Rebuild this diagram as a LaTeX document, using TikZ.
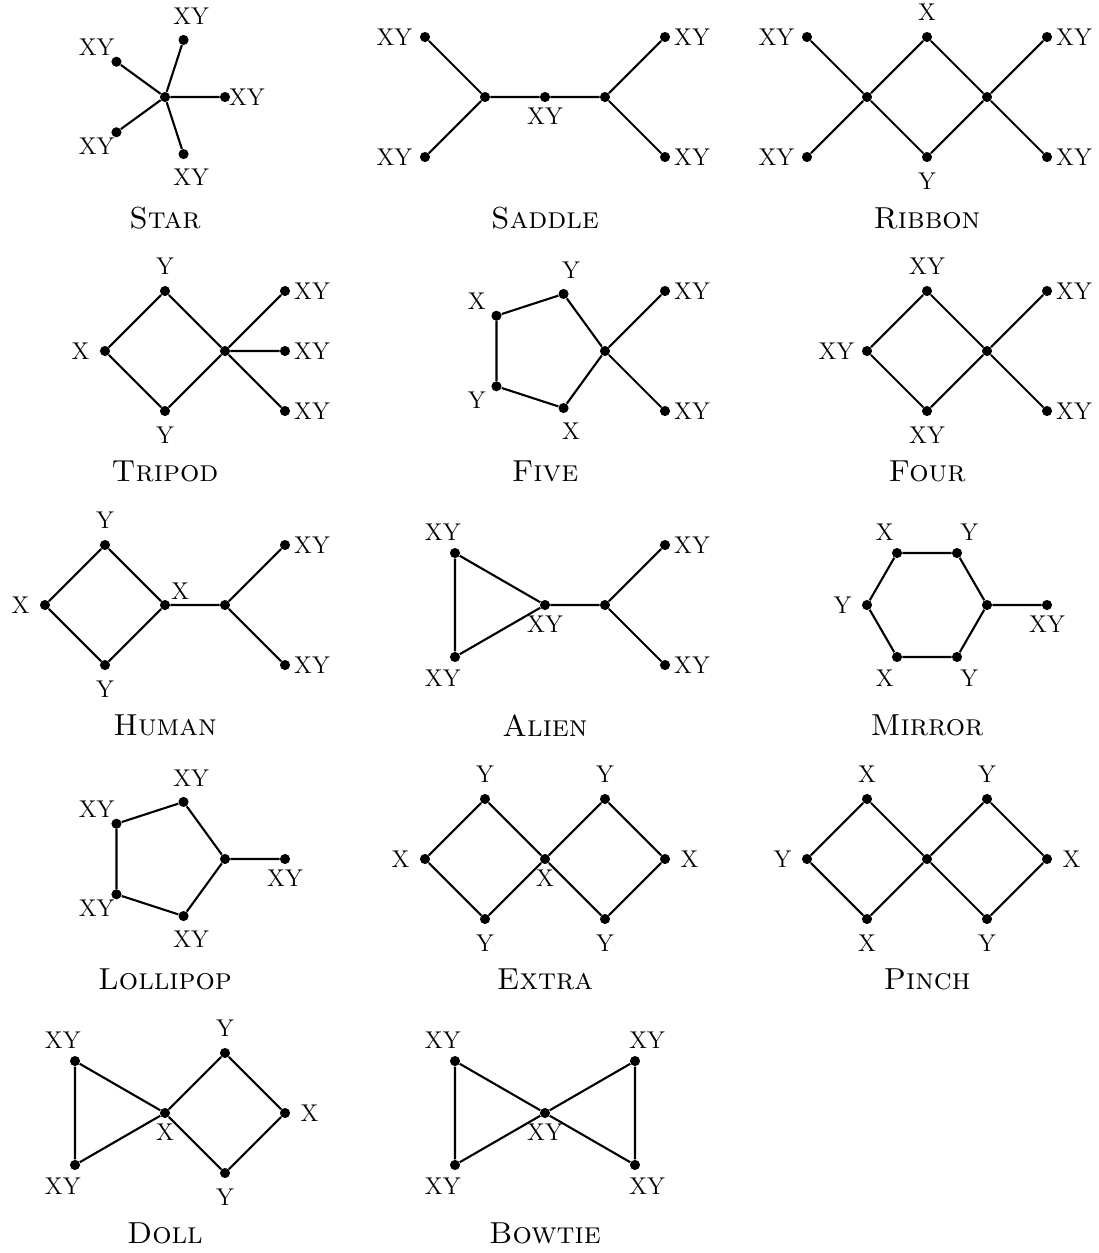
\documentclass[tikz,border=0pt]{standalone}
\begin{document}
\begin{tikzpicture}[x=0.0166667cm,y=-0.0166667cm,
  every node/.style={font=\fontsize{11.5}{14}\selectfont},
  dot/.style={circle,fill=black,inner sep=0pt,minimum size=4.8pt},
  ln/.style={line width=1pt},
  lb/.style={anchor=center,inner sep=0pt,label distance=9pt},
  lbxl/.style={anchor=center,inner sep=0pt,label distance=11.9pt},
  lbxr/.style={anchor=center,inner sep=0pt,label distance=10.2pt},
  lbon/.style={anchor=center,inner sep=0pt,label distance=6.4pt},
  captext/.style={font=\fontsize{14.4}{17}\selectfont\scshape}]
\useasboundingbox (0,0) rectangle (1099,1253);

% ---------- Star ----------
\node[dot] (st) at (165,97) {};
\node[dot,label={[lb,label distance=7.8pt]0:XY}] (st0) at (225,97) {};
\node[dot,label={[lb]72:XY}] (st1) at (183.54,39.94) {};
\node[dot,label={[lb]144:XY}] (st2) at (116.46,61.73) {};
\node[dot,label={[lb]216:XY}] (st3) at (116.46,132.27) {};
\node[dot,label={[lb]288:XY}] (st4) at (183.54,154.06) {};
\draw[ln] (st)--(st0) (st)--(st1) (st)--(st2) (st)--(st3) (st)--(st4);
\node[captext] (capst) at (165,218.5) {Star};

% ---------- Saddle ----------
\node[dot,label={[lbxl]180:XY}] (sa1) at (425,37) {};
\node[dot,label={[lbxl]180:XY}] (sa2) at (425,157) {};
\node[dot] (sa3) at (485,97) {};
\node[dot,label={[lbon]270:XY}] (sa4) at (545,97) {};
\node[dot] (sa5) at (605,97) {};
\node[dot,label={[lbxr]0:XY}] (sa6) at (665,37) {};
\node[dot,label={[lbxr]0:XY}] (sa7) at (665,157) {};
\draw[ln] (sa1)--(sa3) (sa2)--(sa3) (sa3)--(sa4)--(sa5) (sa5)--(sa6) (sa5)--(sa7);
\node[captext] (capsa) at (545,218.5) {Saddle};

% ---------- Ribbon ----------
\node[dot,label={[lbxl]180:XY}] (rb1) at (807,37) {};
\node[dot,label={[lbxl]180:XY}] (rb2) at (807,157) {};
\node[dot] (rb3) at (867,97) {};
\node[dot,label={[lb]90:X}] (rb4) at (927,37) {};
\node[dot,label={[lb]270:Y}] (rb5) at (927,157) {};
\node[dot] (rb6) at (987,97) {};
\node[dot,label={[lbxr]0:XY}] (rb7) at (1047,37) {};
\node[dot,label={[lbxr]0:XY}] (rb8) at (1047,157) {};
\draw[ln] (rb1)--(rb3) (rb2)--(rb3) (rb3)--(rb4)--(rb6)--(rb5)--(rb3) (rb6)--(rb7) (rb6)--(rb8);
\node[captext] (caprb) at (927,218.5) {Ribbon};

% ---------- Tripod ----------
\node[dot,label={[lb]180:X}] (tr1) at (105,351) {};
\node[dot,label={[lb]90:Y}] (tr2) at (165,291) {};
\node[dot,label={[lb]270:Y}] (tr3) at (165,411) {};
\node[dot] (tr4) at (225,351) {};
\node[dot,label={[lbxr]0:XY}] (tr5) at (285,291) {};
\node[dot,label={[lbxr]0:XY}] (tr6) at (285,351) {};
\node[dot,label={[lbxr]0:XY}] (tr7) at (285,411) {};
\draw[ln] (tr1)--(tr2)--(tr4)--(tr3)--(tr1) (tr4)--(tr5) (tr4)--(tr6) (tr4)--(tr7);
\node[captext] (captr) at (165,471.5) {Tripod};

% ---------- Five ----------
\node[dot] (fv0) at (605,351) {};
\node[dot,label={[lb]72:Y}] (fv1) at (563.54,293.94) {};
\node[dot,label={[lb]144:X}] (fv2) at (496.46,315.73) {};
\node[dot,label={[lb]216:Y}] (fv3) at (496.46,386.27) {};
\node[dot,label={[lb]288:X}] (fv4) at (563.54,408.06) {};
\node[dot,label={[lbxr]0:XY}] (fv5) at (665,291) {};
\node[dot,label={[lbxr]0:XY}] (fv6) at (665,411) {};
\draw[ln] (fv0)--(fv1)--(fv2)--(fv3)--(fv4)--(fv0) (fv0)--(fv5) (fv0)--(fv6);
\node[captext] (capfv) at (545,471.5) {Five};

% ---------- Four ----------
\node[dot,label={[lbxl]180:XY}] (fo1) at (867,351) {};
\node[dot,label={[lb]90:XY}] (fo2) at (927,291) {};
\node[dot,label={[lb]270:XY}] (fo3) at (927,411) {};
\node[dot] (fo4) at (987,351) {};
\node[dot,label={[lbxr]0:XY}] (fo5) at (1047,291) {};
\node[dot,label={[lbxr]0:XY}] (fo6) at (1047,411) {};
\draw[ln] (fo1)--(fo2)--(fo4)--(fo3)--(fo1) (fo4)--(fo5) (fo4)--(fo6);
\node[captext] (capfo) at (927,471.5) {Four};

% ---------- Human ----------
\node[dot,label={[lb]180:X}] (hu1) at (45,605) {};
\node[dot,label={[lb]90:Y}] (hu2) at (105,545) {};
\node[dot,label={[lb]270:Y}] (hu3) at (105,665) {};
\node[dot,label={[lb,label distance=7.1pt]42:X}] (hu4) at (165,605) {};
\node[dot] (hu5) at (225,605) {};
\node[dot,label={[lbxr]0:XY}] (hu6) at (285,545) {};
\node[dot,label={[lbxr]0:XY}] (hu7) at (285,665) {};
\draw[ln] (hu1)--(hu2)--(hu4)--(hu3)--(hu1) (hu4)--(hu5) (hu5)--(hu6) (hu5)--(hu7);
\node[captext] (caphu) at (165,725.5) {Human};

% ---------- Alien ----------
\node[dot,label={[lb]120:XY}] (al1) at (455,553.04) {};
\node[dot,label={[lb]240:XY}] (al2) at (455,656.96) {};
\node[dot,label={[lbon]270:XY}] (al3) at (545,605) {};
\node[dot] (al4) at (605,605) {};
\node[dot,label={[lbxr]0:XY}] (al5) at (665,545) {};
\node[dot,label={[lbxr]0:XY}] (al6) at (665,665) {};
\draw[ln] (al1)--(al2)--(al3)--(al1) (al3)--(al4) (al4)--(al5) (al4)--(al6);
\node[captext] (capal) at (545,725.5) {Alien};

% ---------- Mirror ----------
\node[dot] (mi0) at (987,605) {};
\node[dot,label={[lb]60:Y}] (mi1) at (957,553.04) {};
\node[dot,label={[lb]120:X}] (mi2) at (897,553.04) {};
\node[dot,label={[lb]180:Y}] (mi3) at (867,605) {};
\node[dot,label={[lb]240:X}] (mi4) at (897,656.96) {};
\node[dot,label={[lb]300:Y}] (mi5) at (957,656.96) {};
\node[dot,label={[lbon]270:XY}] (mi6) at (1047,605) {};
\draw[ln] (mi0)--(mi1)--(mi2)--(mi3)--(mi4)--(mi5)--(mi0) (mi0)--(mi6);
\node[captext] (capmi) at (927,725.5) {Mirror};

% ---------- Lollipop ----------
\node[dot] (lo0) at (225,859) {};
\node[dot,label={[lb]72:XY}] (lo1) at (183.54,801.94) {};
\node[dot,label={[lb]144:XY}] (lo2) at (116.46,823.73) {};
\node[dot,label={[lb]216:XY}] (lo3) at (116.46,894.27) {};
\node[dot,label={[lb]288:XY}] (lo4) at (183.54,916.06) {};
\node[dot,label={[lbon]270:XY}] (lo5) at (285,859) {};
\draw[ln] (lo0)--(lo1)--(lo2)--(lo3)--(lo4)--(lo0) (lo0)--(lo5);
\node[captext] (caplo) at (165,979.5) {Lollipop};

% ---------- Extra ----------
\node[dot,label={[lb]180:X}] (ex1) at (425,859) {};
\node[dot,label={[lb]90:Y}] (ex2) at (485,799) {};
\node[dot,label={[lb]270:Y}] (ex3) at (485,919) {};
\node[dot,label={[lbon]270:X}] (ex4) at (545,859) {};
\node[dot,label={[lb]90:Y}] (ex5) at (605,799) {};
\node[dot,label={[lb]270:Y}] (ex6) at (605,919) {};
\node[dot,label={[lb]0:X}] (ex7) at (665,859) {};
\draw[ln] (ex1)--(ex2)--(ex4)--(ex3)--(ex1) (ex4)--(ex5)--(ex7)--(ex6)--(ex4);
\node[captext] (capex) at (545,979.5) {Extra};

% ---------- Pinch ----------
\node[dot,label={[lb]180:Y}] (pi1) at (807,859) {};
\node[dot,label={[lb]90:X}] (pi2) at (867,799) {};
\node[dot,label={[lb]270:X}] (pi3) at (867,919) {};
\node[dot] (pi4) at (927,859) {};
\node[dot,label={[lb]90:Y}] (pi5) at (987,799) {};
\node[dot,label={[lb]270:Y}] (pi6) at (987,919) {};
\node[dot,label={[lb]0:X}] (pi7) at (1047,859) {};
\draw[ln] (pi1)--(pi2)--(pi4)--(pi3)--(pi1) (pi4)--(pi5)--(pi7)--(pi6)--(pi4);
\node[captext] (cappi) at (927,979.5) {Pinch};

% ---------- Doll ----------
\node[dot,label={[lb]120:XY}] (do1) at (75,1061.04) {};
\node[dot,label={[lb]240:XY}] (do2) at (75,1164.96) {};
\node[dot,label={[lbon]270:X}] (do3) at (165,1113) {};
\node[dot,label={[lb]90:Y}] (do4) at (225,1053) {};
\node[dot,label={[lb]270:Y}] (do5) at (225,1173) {};
\node[dot,label={[lb]0:X}] (do6) at (285,1113) {};
\draw[ln] (do1)--(do2)--(do3)--(do1) (do3)--(do4)--(do6)--(do5)--(do3);
\node[captext] (capdo) at (165,1233.5) {Doll};

% ---------- Bowtie ----------
\node[dot,label={[lb]120:XY}] (bo1) at (455,1061.04) {};
\node[dot,label={[lb]240:XY}] (bo2) at (455,1164.96) {};
\node[dot,label={[lbon]270:XY}] (bo3) at (545,1113) {};
\node[dot,label={[lb]60:XY}] (bo4) at (635,1061.04) {};
\node[dot,label={[lb]300:XY}] (bo5) at (635,1164.96) {};
\draw[ln] (bo1)--(bo2)--(bo3)--(bo1) (bo3)--(bo4)--(bo5)--(bo3);
\node[captext] (capbo) at (545,1233.5) {Bowtie};
\end{tikzpicture}
\end{document}
